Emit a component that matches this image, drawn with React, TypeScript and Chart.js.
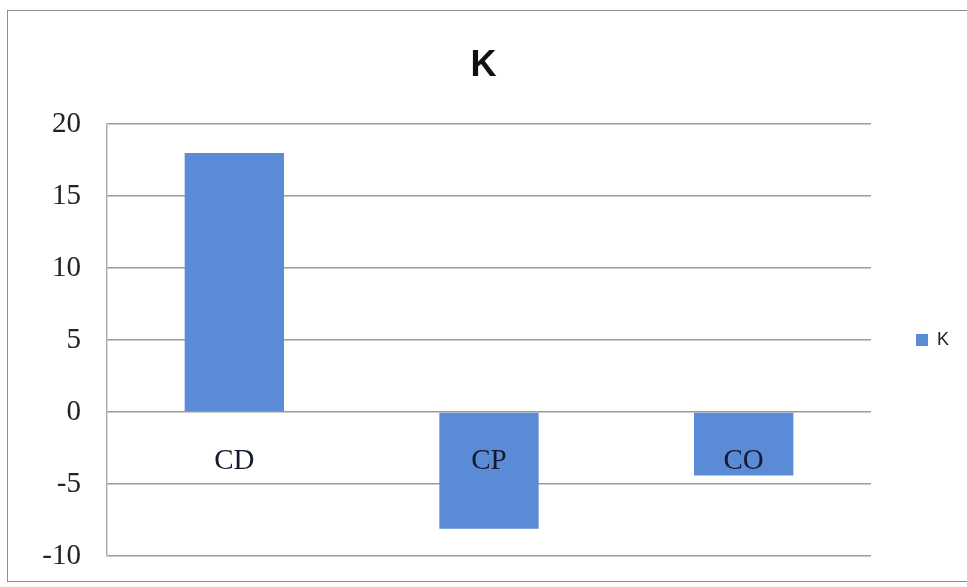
import React, { useEffect, useRef } from "react";
import { Chart, registerables } from "chart.js";

Chart.register(...registerables);

const chartTitle = "K";
const seriesName = "K";
const categories = ["CD", "CP", "CO"];
const values = [18, -8.1, -4.4];
const yMin = -10;
const yMax = 20;
const yStep = 5;

const BAR_BLUE = "#5b8bd6";
const GRID = "#9a9a9a";

export default function App() {
  const ref = useRef<HTMLCanvasElement>(null);

  useEffect(() => {
    if (!ref.current) return;
    const chart = new Chart(ref.current, {
      type: "bar",
      data: {
        labels: categories,
        datasets: [
          {
            label: seriesName,
            data: values,
            backgroundColor: BAR_BLUE,
            borderWidth: 0,
            categoryPercentage: 1,
            barPercentage: 0.39,
          },
        ],
      },
      options: {
        responsive: false,
        animation: false,
        layout: { padding: { left: 0, right: 8, top: 0, bottom: 24 } },
        plugins: {
          title: {
            display: true,
            text: chartTitle,
            color: "#111",
            font: { family: "'Liberation Sans Narrow', 'Liberation Sans', sans-serif", size: 36, weight: "bold" },
            padding: { top: 33, bottom: 37 },
          },
          legend: {
            display: true,
            position: "right",
            fullSize: false,
            labels: {
              boxWidth: 12,
              boxHeight: 12,
              padding: 45,
              color: "#222",
              font: { family: "'Liberation Sans', sans-serif", size: 18 },
            },
          },
          tooltip: { enabled: false },
        },
        scales: {
          x: {
            position: { y: 0 } as any,
            grid: { display: false, drawTicks: false },
            border: { display: false },
            ticks: {
              z: 1,
              color: "#141a2e",
              padding: 32,
              font: { family: "'Liberation Serif', 'Times New Roman', serif", size: 29 },
            },
            afterFit: (s: any) => {
              s.height = 0;
              s.paddingTop = 0;
              s.paddingBottom = 0;
            },
          },
          y: {
            min: yMin,
            max: yMax,
            grid: { color: GRID, lineWidth: 1.5, drawTicks: false },
            border: { display: true, color: "#b0b0b0", width: 1.5 },
            ticks: {
              stepSize: yStep,
              color: "#222",
              padding: 26,
              font: { family: "'Liberation Serif', 'Times New Roman', serif", size: 29 },
            },
            afterFit: (s: any) => {
              s.width = 99;
              s.paddingBottom = 0;
              s.paddingTop = 0;
            },
          },
        },
      },
    });
    return () => chart.destroy();
  }, []);

  return (
    <div
      style={{
        position: "fixed",
        left: 7,
        top: 10,
        width: 962,
        height: 570,
        border: "1px solid #8c8c8c",
        background: "#fff",
      }}
    >
      <canvas ref={ref} width={959} height={569} style={{ display: "block" }} />
    </div>
  );
}
